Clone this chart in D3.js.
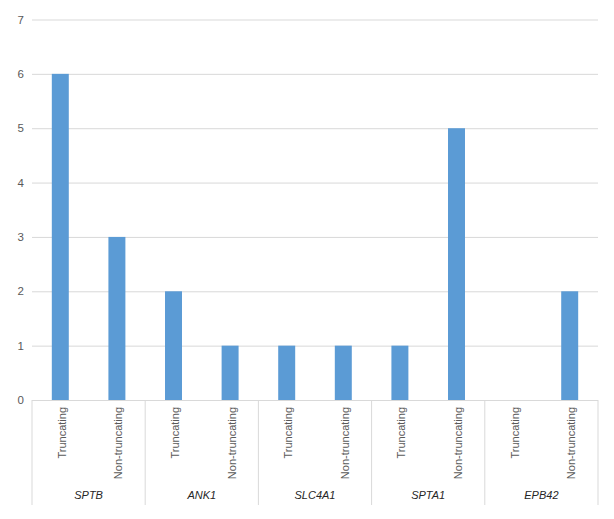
<!DOCTYPE html>
<html><head><meta charset="utf-8">
<script src="https://cdn.jsdelivr.net/npm/d3@7"></script>
<style>body{margin:0;background:#fff}svg{display:block}text{font-family:Arial,"Liberation Sans",sans-serif}</style>
</head><body><div id="c"></div>
<script>
const genes = ["SPTB","ANK1","SLC4A1","SPTA1","EPB42"];
const types = ["Truncating","Non-truncating"];
const values = [6,3,2,1,1,1,1,5,0,2];
const yTicks = [0,1,2,3,4,5,6,7];

const W=614,H=519;
const L=32,R=598,T=19.5,B=400;
const svg=d3.select("#c").append("svg").attr("width",W).attr("height",H);
const rows=[];
genes.forEach((g,i)=>types.forEach((t,j)=>rows.push({gene:g,type:t,key:g+"|"+t,v:values[i*2+j]})));
const x=d3.scaleBand().domain(rows.map(d=>d.key)).range([L,R]).paddingInner(0.7).paddingOuter(0.35);
const y=d3.scaleLinear().domain([0,7]).range([B,T]);
const xg=d3.scaleBand().domain(genes).range([L,R]);

// grid
const ya=svg.append("g").attr("transform",`translate(${L},0)`).call(d3.axisLeft(y).tickValues(yTicks).tickFormat(d3.format("d")).tickSize(-(R-L)).tickPadding(8));
ya.select(".domain").remove();
ya.selectAll(".tick line").attr("stroke","#d9d9d9").attr("stroke-width",1);
ya.selectAll(".tick text").attr("fill","#595959").attr("font-size",11.5);

// bars
svg.append("g").selectAll("rect").data(rows).join("rect")
 .attr("x",d=>x(d.key)).attr("width",x.bandwidth())
 .attr("y",d=>y(d.v)).attr("height",d=>y(0)-y(d.v)).attr("fill","#5b9bd5");

// axis baseline
svg.append("line").attr("x1",L).attr("x2",R).attr("y1",B+0.5).attr("y2",B+0.5).attr("stroke","#d9d9d9");
// group separators
svg.append("g").selectAll("line").data(genes.concat(["_end"])).join("line")
 .attr("x1",(d,i)=>i<genes.length?xg(d):R).attr("x2",(d,i)=>i<genes.length?xg(d):R)
 .attr("y1",B).attr("y2",505).attr("stroke","#d9d9d9");
// type labels
svg.append("g").selectAll("text").data(rows).join("text")
 .attr("transform",d=>`translate(${x(d.key)+x.bandwidth()/2+5.5},${B+7}) rotate(-90)`)
 .attr("text-anchor","end").attr("font-size",11).attr("fill","#595959").text(d=>d.type);
// gene labels
svg.append("g").selectAll("text").data(genes).join("text")
 .attr("x",d=>xg(d)+xg.bandwidth()/2).attr("y",499).attr("text-anchor","middle")
 .attr("font-size",11).attr("font-style","italic").attr("fill","#262626").text(d=>d);
</script></body></html>
